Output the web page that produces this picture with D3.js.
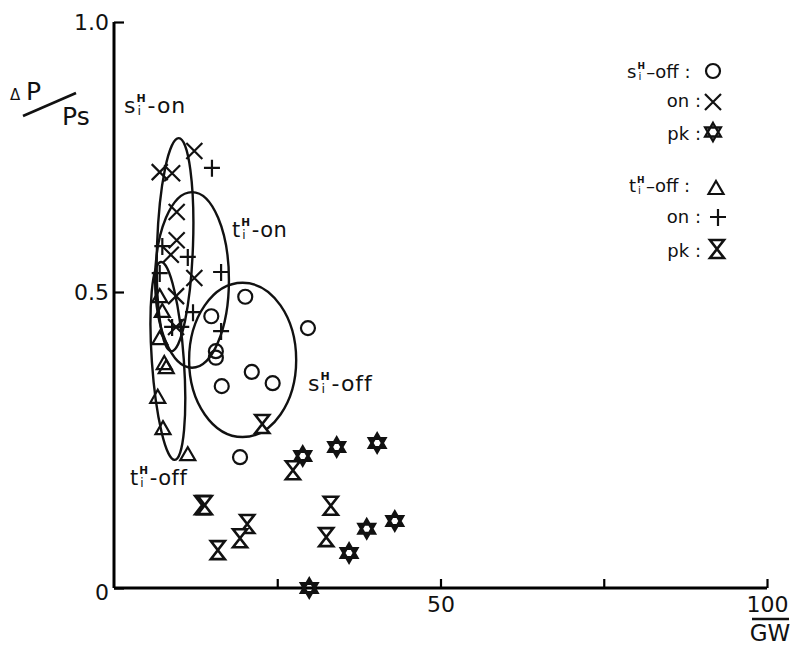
<!DOCTYPE html>
<html><head><meta charset="utf-8">
<script src="https://cdn.jsdelivr.net/npm/d3@7"></script>
<style>body{margin:0;background:#fff}svg{display:block}</style>
</head><body>
<script>
// ---- data (GW, ΔP/Ps) ----
const sOff = [[20.1,0.492],[14.9,0.459],[29.7,0.439],[15.6,0.400],[15.6,0.389],[21.1,0.365],[16.5,0.341],[24.3,0.346],[19.3,0.221]];
const sOn  = [[7.0,0.722],[8.9,0.720],[12.3,0.761],[9.6,0.648],[9.6,0.596],[8.7,0.569],[12.3,0.526],[9.5,0.493],[9.5,0.441]];
const sPk  = [[28.9,0.223],[34.1,0.238],[40.3,0.245],[43.0,0.113],[38.7,0.100],[36.0,0.059],[29.9,0.0]];
const tOff = [[7.0,0.493],[7.4,0.468],[7.0,0.422],[7.7,0.380],[8.0,0.373],[6.7,0.323],[7.5,0.270],[11.3,0.226]];
const tOn  = [[15.0,0.730],[7.4,0.585],[11.3,0.565],[7.0,0.535],[16.4,0.537],[12.1,0.466],[16.4,0.434],[8.9,0.441],[10.3,0.441]];
const tPk  = [[22.7,0.277],[27.4,0.199],[13.5,0.140],[13.9,0.140],[20.4,0.108],[19.3,0.084],[15.9,0.064],[33.2,0.139],[32.5,0.086]];
// cluster ellipses: [xmin, xmax, ymin, ymax]
const ellipses = [
  {name:"sOn",  box:[6.6,12.1,0.40,0.785], rot:2},
  {name:"tOn",  box:[6.3,17.6,0.372,0.685], rot:0},
  {name:"tOff", box:[5.8,10.7,0.216,0.556], rot:-4},
  {name:"sOff", box:[11.5,27.9,0.255,0.517], rot:0}
];
const xTicks = [25,50,75,100];
const xTickLabels = {50:"50",100:"100"};
const yTicks = [0,0.5,1];
const yTickLabels = {0:"0",0.5:"0.5",1:"1.0"};

const W=793,H=648;
const svg=d3.select("body").append("svg").attr("width",W).attr("height",H);
const FONT="'DejaVu Sans', 'Liberation Sans', Arial, sans-serif";
const x=d3.scaleLinear().domain([0,100]).range([114,767]);
const y=d3.scaleLinear().domain([0,0.5,1]).range([588,292,22]);

// axes
const xAxis=d3.axisBottom(x).tickValues(xTicks).tickSize(-9).tickPadding(8)
  .tickFormat(d=>xTickLabels[d]||"");
const gx=svg.append("g").attr("transform","translate(0,"+y(0)+")").call(xAxis);
gx.select(".domain").attr("d","M"+x(0)+",0H"+x(100)).attr("stroke-width",3);
gx.selectAll(".tick line").attr("stroke-width",2.2);
gx.selectAll(".tick text").attr("font-family",FONT).attr("font-size",22).attr("fill","#111");

const yAxis=d3.axisLeft(y).tickValues(yTicks).tickSize(-10).tickPadding(5)
  .tickFormat(d=>yTickLabels[d]);
const gy=svg.append("g").attr("transform","translate("+x(0)+",0)").call(yAxis);
gy.select(".domain").attr("d","M0,"+y(0)+"V"+y(1)).attr("stroke-width",3);
gy.selectAll(".tick line").attr("stroke-width",2.2);
gy.selectAll(".tick text").attr("font-family",FONT).attr("font-size",22).attr("fill","#111");
gy.selectAll(".tick").filter(d=>d===0).select("text").attr("dy","0.5em");

// ellipses
svg.append("g").selectAll("ellipse").data(ellipses).join("ellipse")
  .attr("cx",d=>(x(d.box[0])+x(d.box[1]))/2)
  .attr("cy",d=>(y(d.box[2])+y(d.box[3]))/2)
  .attr("rx",d=>(x(d.box[1])-x(d.box[0]))/2)
  .attr("ry",d=>(y(d.box[2])-y(d.box[3]))/2)
  .attr("transform",d=>"rotate("+d.rot+","+((x(d.box[0])+x(d.box[1]))/2)+","+((y(d.box[2])+y(d.box[3]))/2)+")")
  .attr("fill","none").attr("stroke","#111").attr("stroke-width",2.4);

// symbols
const sym={
  circle:{d:d3.symbol().type(d3.symbolCircle).size(Math.PI*49)(),fill:"none",sw:2.2},
  cross:{d:"M-8,-8L8,8M-8,8L8,-8",fill:"none",sw:2.2},
  plus:{d:"M-8,0L8,0M0,-8L0,9",fill:"none",sw:2.2},
  tri:{d:"M0,-7L7.5,6L-7.5,6Z",fill:"none",sw:2.2},
  hex:{d:"M0,-9L7.8,4.5L-7.8,4.5Z M0,9L7.8,-4.5L-7.8,-4.5Z",fill:"#fff",sw:3},
  glass:{d:"M-7,-9H7L-7,9H7Z",fill:"#fff",sw:2.6}
};
function plot(data,s){
  svg.append("g").selectAll("path").data(data).join("path")
   .attr("transform",d=>"translate("+x(d[0])+","+y(d[1])+")")
   .attr("d",sym[s].d).attr("fill",sym[s].fill).attr("stroke","#111").attr("stroke-width",sym[s].sw);
}
plot(sOff,"circle");plot(sOn,"cross");plot(tOn,"plus");plot(tOff,"tri");plot(tPk,"glass");plot(sPk,"hex");

// labels with stacked H / i
function lab(xx,yy,main,rest,fs,ls){
  const g=svg.append("g").attr("font-family",FONT).attr("fill","#111");
  const t=g.append("text").attr("x",xx).attr("y",yy).attr("font-size",fs).text(main);
  const w=t.node().getComputedTextLength();
  g.append("text").attr("x",xx+w+1).attr("y",yy-fs*0.52).attr("font-size",fs*0.5).attr("font-weight","bold").text("H");
  g.append("text").attr("x",xx+w+2).attr("y",yy+fs*0.1).attr("font-size",fs*0.58).text("i");
  g.append("text").attr("x",xx+w+fs*0.55).attr("y",yy).attr("font-size",fs).attr("letter-spacing",ls||0).text(rest);
}
lab(124,113,"s","-on",22,1);
lab(232,237,"t","-on",21,0.5);
lab(308,391,"s","-off",22,1);
lab(130,485,"t","-off",21,0.5);

// legend
lab(627,78,"s","\u2013off :",18,0);
lab(629,192,"t","\u2013off :",18,0);
function ltext(xx,yy,s){svg.append("text").attr("x",xx).attr("y",yy).attr("text-anchor","end").attr("font-family",FONT).attr("font-size",18).attr("fill","#111").text(s);}
ltext(701,107,"on :");ltext(701,140,"pk :");ltext(701,223,"on :");ltext(701,257,"pk :");
const legSyms=[["circle",713,71],["cross",713,102],["hex",713,132],["tri",716,188],["plus",718,217],["glass",717,249]];
legSyms.forEach(([s,lx,ly])=>{
  svg.append("path").attr("transform","translate("+lx+","+ly+")").attr("d",sym[s].d)
   .attr("fill",sym[s].fill).attr("stroke","#111").attr("stroke-width",s==="hex"?2.4:sym[s].sw);
});

// y axis title ΔP / Ps
svg.append("text").attr("x",10).attr("y",100).attr("font-family",FONT).attr("font-size",15).attr("fill","#111").text("\u0394");
svg.append("text").attr("x",26).attr("y",100).attr("font-family",FONT).attr("font-size",25).attr("fill","#111").text("P");
svg.append("line").attr("x1",23).attr("y1",116).attr("x2",76).attr("y2",93).attr("stroke","#111").attr("stroke-width",2.6);
svg.append("text").attr("x",62).attr("y",125).attr("font-family",FONT).attr("font-size",25).attr("fill","#111").text("Ps");
// x axis title GW with overline
svg.append("text").attr("x",770).attr("y",641).attr("text-anchor","middle").attr("font-family",FONT).attr("font-size",23).attr("fill","#111").text("GW");
svg.append("line").attr("x1",752).attr("x2",789).attr("y1",619).attr("y2",619).attr("stroke","#111").attr("stroke-width",2.4);
</script>
</body></html>
